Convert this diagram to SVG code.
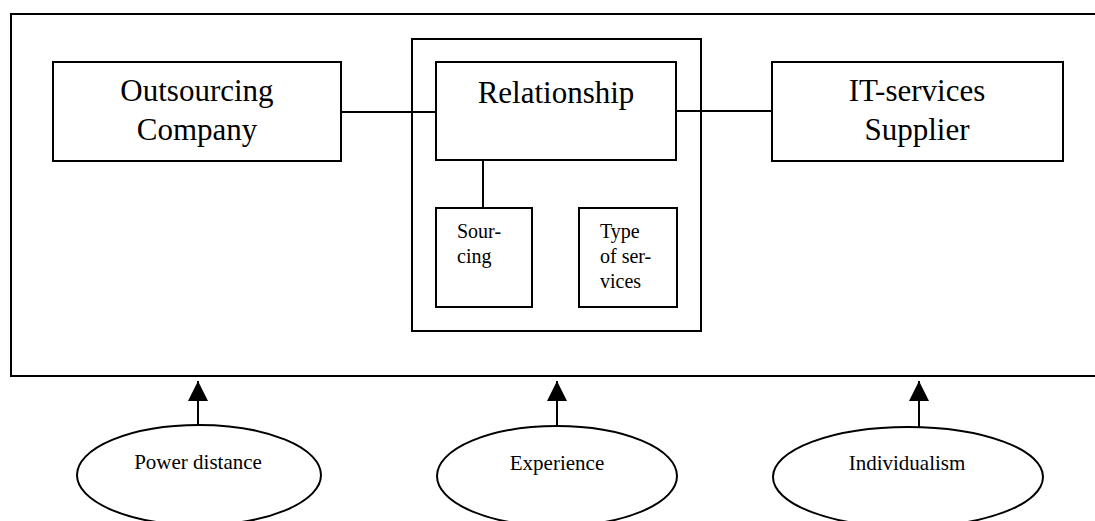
<svg xmlns="http://www.w3.org/2000/svg" width="1095" height="521" viewBox="0 0 1095 521">
  <style>
    .box { fill: #fff; stroke: #000; stroke-width: 2; }
    .frame { fill: none; stroke: #000; stroke-width: 2; }
    .line { stroke: #000; stroke-width: 2; fill: none; }
    .big { font-family: "Liberation Serif", "Times New Roman", serif; font-size: 31px; fill: #000; text-anchor: middle; }
    .small { font-family: "Liberation Serif", "Times New Roman", serif; font-size: 20px; fill: #000; }
    .oval { font-family: "Liberation Serif", "Times New Roman", serif; font-size: 21px; fill: #000; text-anchor: middle; }
  </style>
  <defs>
    <marker id="arrow" viewBox="0 0 20 20" refX="20" refY="10" markerWidth="20" markerHeight="20" markerUnits="userSpaceOnUse" orient="auto">
      <path d="M0,0 L20,10 L0,20 Z" fill="#000"/>
    </marker>
  </defs>
  <rect width="1095" height="521" fill="#fff"/>

  <!-- outer context frame (right edge runs past the page) -->
  <g id="context-frame">
    <path class="frame" d="M1100,14 L11,14 L11,376 L1100,376"/>
  </g>

  <!-- connectors -->
  <g id="connectors">
    <line class="line" x1="341" y1="112" x2="436" y2="112"/>
    <line class="line" x1="676" y1="111" x2="772" y2="111"/>
    <line class="line" x1="483" y1="160" x2="483" y2="208"/>
    <line class="line" x1="198" y1="426" x2="198" y2="381" marker-end="url(#arrow)"/>
    <line class="line" x1="557" y1="426" x2="557" y2="381" marker-end="url(#arrow)"/>
    <line class="line" x1="919" y1="427" x2="919" y2="381" marker-end="url(#arrow)"/>
  </g>

  <g id="outsourcing-company">
    <rect class="box" x="53" y="62" width="288" height="99"/>
    <text class="big" x="197" y="101">Outsourcing</text>
    <text class="big" x="197" y="140">Company</text>
  </g>

  <g id="relationship-group">
    <rect class="frame" x="412" y="39" width="289" height="292"/>
  </g>

  <g id="relationship">
    <rect class="box" x="436" y="62" width="240" height="98"/>
    <text class="big" x="556" y="103">Relationship</text>
  </g>

  <g id="sourcing">
    <rect class="box" x="436" y="208" width="96" height="99"/>
    <text class="small" x="457" y="238">Sour-</text>
    <text class="small" x="457" y="263">cing</text>
  </g>

  <g id="type-of-services">
    <rect class="box" x="579" y="208" width="98" height="99"/>
    <text class="small" x="600" y="238">Type</text>
    <text class="small" x="600" y="263">of ser-</text>
    <text class="small" x="600" y="288">vices</text>
  </g>

  <g id="it-services-supplier">
    <rect class="box" x="772" y="62" width="291" height="99"/>
    <text class="big" x="917" y="101">IT-services</text>
    <text class="big" x="917" y="140">Supplier</text>
  </g>

  <g id="power-distance">
    <ellipse class="box" cx="199" cy="475" rx="122" ry="50"/>
    <text class="oval" x="198" y="469">Power distance</text>
  </g>

  <g id="experience">
    <ellipse class="box" cx="557" cy="476" rx="120" ry="50"/>
    <text class="oval" x="557" y="470">Experience</text>
  </g>

  <g id="individualism">
    <ellipse class="box" cx="908" cy="477" rx="135" ry="50"/>
    <text class="oval" x="907" y="470">Individualism</text>
  </g>
</svg>
